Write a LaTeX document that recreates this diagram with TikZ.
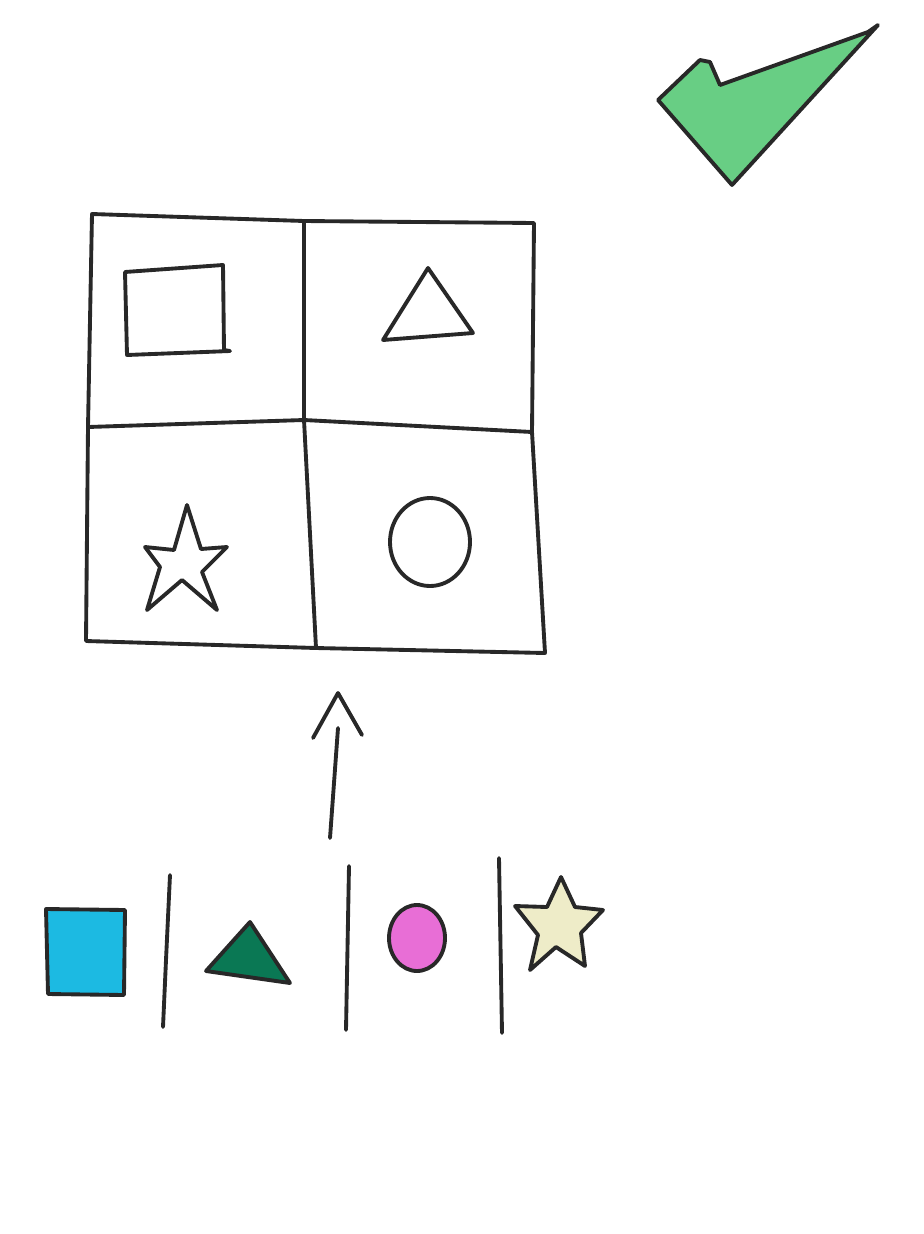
\documentclass[tikz,border=0pt]{standalone}
\definecolor{penblack}{RGB}{40,40,40}
\definecolor{tickgreen}{RGB}{104,206,132}
\definecolor{boxblue}{RGB}{28,186,226}
\definecolor{triggreen}{RGB}{10,120,84}
\definecolor{dotpink}{RGB}{232,110,214}
\definecolor{starcream}{RGB}{238,236,200}
\begin{document}
\begin{tikzpicture}[x=.02cm, y=-.02cm, line cap=round, line join=round,
  pen/.style={draw=penblack, line width=2.2pt}]
  \useasboundingbox (0,0) rectangle (923,1234);

  % grid corners
  \coordinate (TL) at (92,214);
  \coordinate (TM) at (304,221);
  \coordinate (TR) at (534,223);
  \coordinate (ML) at (88,427);
  \coordinate (MM) at (304,420);
  \coordinate (MR) at (532,432);
  \coordinate (BL) at (86,641);
  \coordinate (BM) at (316,648);
  \coordinate (BR) at (545,653);

  \draw[pen] (TL)--(TM)--(TR)--(MR)--(BR)--(BM)--(BL)--(ML)--cycle;
  \draw[pen] (TM)--(MM)--(BM);
  \draw[pen] (ML)--(MM)--(MR);

  % outlines in the cells
  \draw[pen] (125,272)--(223,265)--(224,350)--(230,351)--(127,355)--cycle;
  \draw[pen] (428,268)--(473,333)--(383,340)--cycle;
  \draw[pen] (187,505)--(201,549)--(227,547)--(202,572)--(217,610)--(182,580)
    --(147,610)--(160,567)--(145,547)--(174,550)--cycle;
  \draw[pen] (430,542) ellipse [x radius=40, y radius=44];

  % arrow
  \coordinate (Atail) at (330,838);
  \coordinate (Atip)  at (338,728);
  \coordinate (Hl)    at (313,738);
  \coordinate (Hapex) at (338,693);
  \coordinate (Hr)    at (362,735);
  \draw[pen] (Atail)--(Atip);
  \draw[pen] (Hl)--(Hapex)--(Hr);

  % row of coloured pieces
  \draw[pen, fill=boxblue] (46,909)--(125,910)--(124,995)--(48,994)--cycle;
  \draw[pen] (170,875)--(166,960)--(163,1027);
  \draw[pen, fill=triggreen] (250,922)--(290,983)--(206,971)--cycle;
  \draw[pen] (349,866)--(346,1030);
  \draw[pen, fill=dotpink] (417,938) ellipse [x radius=28, y radius=33];
  \draw[pen] (499,858)--(502,1033);
  \draw[pen, fill=starcream] (561,877)--(575,907)--(603,910)--(581,933)
    --(585,966)--(556,947)--(530,970)--(538,935)--(515,906)--(547,907)--cycle;

  % tick
  \draw[pen, fill=tickgreen] (658,100)--(700,60)--(710,62)--(720,85)
    --(868,32)--(878,25)--(732,185)--cycle;
\end{tikzpicture}
\end{document}
